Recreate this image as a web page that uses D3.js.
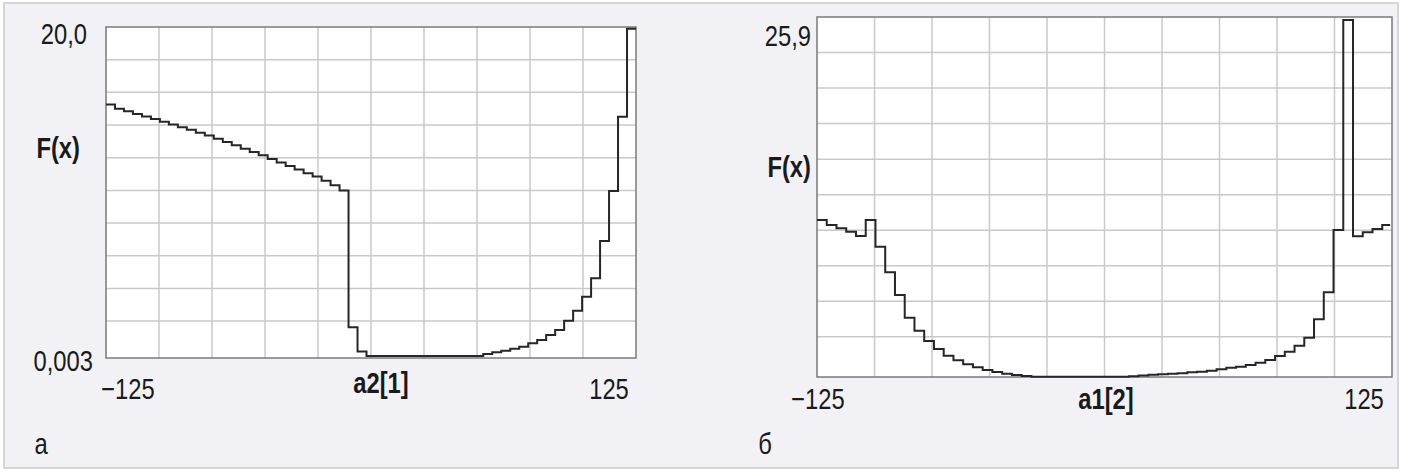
<!DOCTYPE html>
<html>
<head>
<meta charset="utf-8">
<script src="https://cdn.jsdelivr.net/npm/d3@7"></script>
<style>
  html, body { margin: 0; padding: 0; background: #ffffff; }
  svg { display: block; }
  text { font-family: "Liberation Sans", Arial, "Helvetica", sans-serif; fill: #1a1a1a; }
</style>
</head>
<body>
<svg id="chart" width="1413" height="476"></svg>
<script>
// ---------------- DATA ----------------
const xDomain = [-125, 125];
const xTickLabels = ["\u2212125", "125"];

const seriesA = [
  15.33, 15.07, 14.92, 14.76, 14.61, 14.45, 14.29, 14.12, 13.95, 13.79,
  13.61, 13.44, 13.25, 13.05, 12.85, 12.64, 12.44, 12.24, 12.02, 11.80,
  11.59, 11.37, 11.15, 10.94, 10.68, 10.42, 10.09,
  1.75, 0.27,
  0.003, 0.003, 0.003, 0.003, 0.003, 0.003, 0.003, 0.003, 0.003, 0.003, 0.003, 0.003, 0.003,
  0.12, 0.23, 0.33, 0.45, 0.57, 0.78, 0.98, 1.28, 1.59, 2.15, 2.76, 3.62, 4.74, 7.01, 10.06, 14.59, 19.95
];
const yDomainA = [0.003, 20.0];
const yTickLabelsA = ["0,003", "20,0"];
const xTitleA = "a2[1]";
const panelLetterA = "а";

const seriesB = [
  11.39, 11.03, 10.79, 10.54, 10.23, 11.39, 9.45, 7.60, 5.95, 4.30,
  3.36, 2.61, 2.03, 1.55, 1.21, 0.92, 0.70, 0.51, 0.36, 0.24,
  0.15, 0.07, 0.02,
  0.01, 0.01, 0.01, 0.01, 0.01, 0.01, 0.01, 0.01, 0.01,
  0.06, 0.11, 0.17, 0.20, 0.24, 0.27, 0.34, 0.38, 0.46, 0.56,
  0.67, 0.75, 0.87, 1.04, 1.23, 1.52, 1.84, 2.27, 2.85, 4.19,
  6.14, 10.66, 25.9, 10.21, 10.50, 10.74, 11.03
];
const yDomainB = [0, 25.9];
const yTickLabelsB = [null, "25,9"];
const xTitleB = "a1[2]";
const panelLetterB = "б";

const yTitle = "F(x)";

// ---------------- LAYOUT ----------------
const FS = 29;
const SX = 0.82; // condensed look
const svg = d3.select("#chart");

svg.append("rect")
  .attr("x", 4).attr("y", 3).attr("width", 1394).attr("height", 465)
  .attr("fill", "#f2f2f6").attr("stroke", "#d6d6da").attr("stroke-width", 2);

function label(g, txt, x, cy, anchor, bold) {
  const t = g.append("text")
    .attr("transform", `translate(${x},${cy + FS * 0.358}) scale(${SX},1)`)
    .attr("text-anchor", anchor).attr("font-size", FS).text(txt);
  if (bold) t.attr("font-weight", "bold");
  return t;
}

function drawPanel(cfg) {
  const { px, py, pw, ph, data, yDomain, yPadTop, yPadBottom } = cfg;
  const g = svg.append("g");

  const x = d3.scaleLinear().domain(xDomain).range([px, px + pw]);
  const y = d3.scaleLinear().domain(yDomain).range([py + ph - yPadBottom, py + yPadTop]);

  g.append("rect").attr("x", px).attr("y", py).attr("width", pw).attr("height", ph)
    .attr("fill", "#ffffff");

  const nCols = 10;
  const colTicks = d3.range(1, nCols).map(i => xDomain[0] + i * (xDomain[1] - xDomain[0]) / nCols);
  g.selectAll(".vg").data(colTicks).join("line")
    .attr("x1", d => x(d)).attr("x2", d => x(d))
    .attr("y1", py).attr("y2", py + ph)
    .attr("stroke", "#c9c9c9").attr("stroke-width", 1.5);
  const rowStep = ph / 10.13;
  g.selectAll(".hg").data(d3.range(1, 10)).join("line")
    .attr("x1", px).attr("x2", px + pw)
    .attr("y1", d => py + d * rowStep).attr("y2", d => py + d * rowStep)
    .attr("stroke", "#c9c9c9").attr("stroke-width", 1.5);

  g.append("rect").attr("x", px).attr("y", py).attr("width", pw).attr("height", ph)
    .attr("fill", "none").attr("stroke", "#7a7a7a").attr("stroke-width", 1.5);

  const n = data.length;
  const binW = (xDomain[1] - xDomain[0]) / n;
  const pts = data.map((v, i) => [xDomain[0] + i * binW, v]);
  pts.push([xDomain[1] - (cfg.endTrim || 0), data[n - 1]]);
  const line = d3.line().x(d => x(d[0])).y(d => y(d[1])).curve(d3.curveStepAfter);
  g.append("path").attr("d", line(pts))
    .attr("fill", "none").attr("stroke", "#262626").attr("stroke-width", 2)
    .attr("stroke-linejoin", "miter");

  cfg.yLabels.forEach(l => { if (l.text) label(g, l.text, l.x, l.cy, "end", false); });
  label(g, yTitle, cfg.yTitle.x, cfg.yTitle.cy, "end", true);
  cfg.xLabels.forEach(l => label(g, l.text, l.cx, l.cy, "middle", false));
  label(g, cfg.xTitle.text, cfg.xTitle.cx, cfg.xTitle.cy, "middle", true);
  label(g, cfg.letter.text, cfg.letter.cx, cfg.letter.cy, "middle", false);
}

drawPanel({
  px: 106, py: 27, pw: 530, ph: 331, data: seriesA, yDomain: yDomainA,
  yPadTop: 1, yPadBottom: 2,
  yLabels: [{ text: yTickLabelsA[1], x: 87, cy: 34 }, { text: yTickLabelsA[0], x: 93, cy: 361 }],
  yTitle: { x: 80, cy: 148 },
  xLabels: [{ text: xTickLabels[0], cx: 128, cy: 389 }, { text: xTickLabels[1], cx: 609, cy: 389 }],
  xTitle: { text: xTitleA, cx: 381, cy: 383 },
  letter: { text: panelLetterA, cx: 41, cy: 444 }
});

drawPanel({
  px: 817, py: 17, pw: 575, ph: 360, data: seriesB, yDomain: yDomainB,
  yPadTop: 3, yPadBottom: 0, endTrim: 0.8,
  yLabels: [{ text: yTickLabelsB[1], x: 811, cy: 36 }],
  yTitle: { x: 811, cy: 167 },
  xLabels: [{ text: xTickLabels[0], cx: 818, cy: 399 }, { text: xTickLabels[1], cx: 1364, cy: 399 }],
  xTitle: { text: xTitleB, cx: 1106, cy: 399 },
  letter: { text: panelLetterB, cx: 765, cy: 444 }
});
</script>
</body>
</html>
